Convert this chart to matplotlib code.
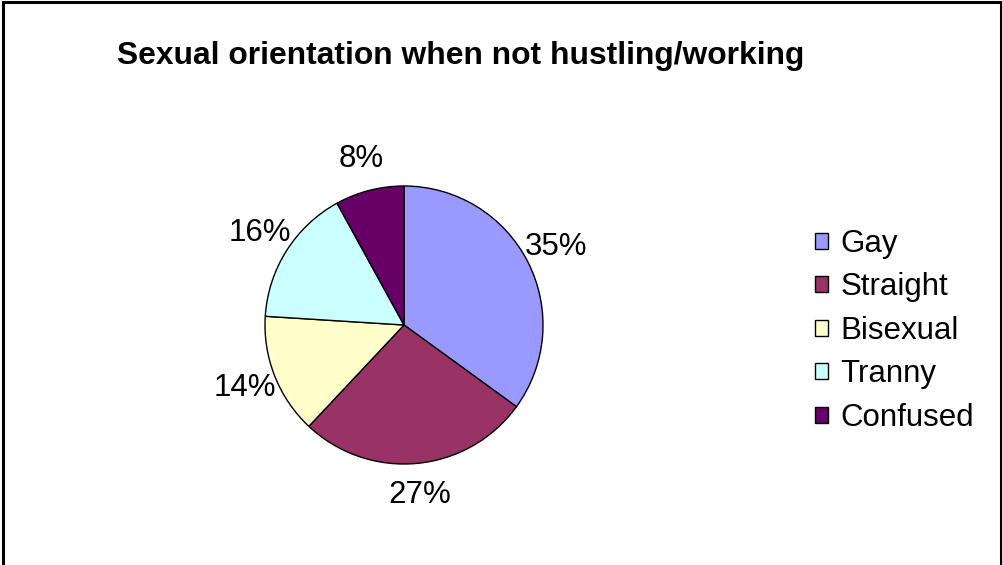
import matplotlib.pyplot as plt
from matplotlib.patches import Rectangle

plt.rcParams['font.family'] = ['Liberation Sans', 'DejaVu Sans']

# Доля кожної орієнтації (%)
labels = ['Gay', 'Straight', 'Bisexual', 'Tranny', 'Confused']
values = [35, 27, 14, 16, 8]
colors = ['#9999FF', '#993366', '#FFFFCC', '#CCFFFF', '#660066']

W, H = 1003, 565
fig = plt.figure(figsize=(W / 100, H / 100), dpi=100)

# Рамка навколо всього полотна
fig.patches.append(Rectangle((3.5 / W, -0.01), (1001 - 3.5) / W, 1.01 - 2.5 / H,
                             transform=fig.transFigure, fill=False,
                             edgecolor='black', linewidth=2.2))

# Заголовок
fig.text(117 / W, 1 - 56 / H, 'Sexual orientation when not hustling/working',
         fontsize=22.9, fontweight='bold', va='center', ha='left')

# Осі під кругову діаграму: центр (404, 325), радіус 139 px
cx, cy, r = 404, 325, 139
ax = fig.add_axes([(cx - r) / W, (H - cy - r) / H, 2 * r / W, 2 * r / H])
wedges, texts, autotexts = ax.pie(
    values, colors=colors, startangle=90, counterclock=False,
    autopct='%1.0f%%', pctdistance=1.23, radius=1,
    wedgeprops=dict(edgecolor='black', linewidth=1.0))
for t in autotexts:
    t.set_fontsize(22.5)
ax.set_xlim(-1, 1)
ax.set_ylim(-1, 1)
ax.set_aspect('equal')

# Легенда праворуч
fig.legend(wedges, labels, loc='upper left',
           bbox_to_anchor=(815 / W, 1 - 229 / H), frameon=False,
           fontsize=22.5, handlelength=0.42, handleheight=0.42,
           handletextpad=0.4, labelspacing=0.43, borderaxespad=0,
           borderpad=0)

plt.savefig('out.png', dpi=100)
